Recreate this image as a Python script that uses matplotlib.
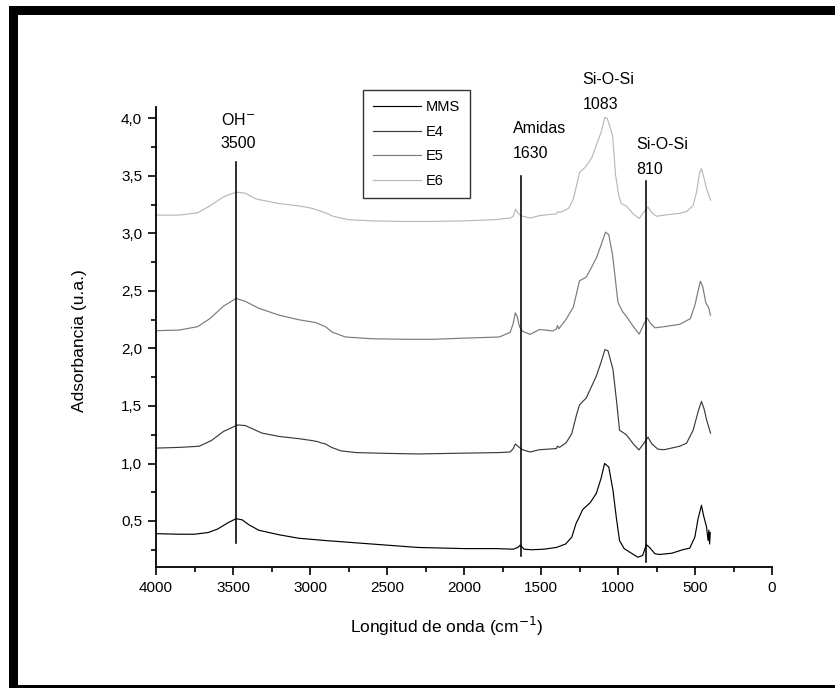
import matplotlib
matplotlib.use("Agg")
import matplotlib.pyplot as plt
from matplotlib.ticker import MultipleLocator, FuncFormatter
from matplotlib.patches import Rectangle

plt.rcParams['font.family'] = ['Liberation Sans', 'DejaVu Sans']

# ---------------- data ----------------
series_names = ["MMS", "E4", "E5", "E6"]
series_colors = ["#000000", "#3c3c3c", "#7a7a7a", "#b8b8b8"]

mms_wn = [4000, 3850, 3750, 3660, 3600, 3530, 3480, 3440, 3400, 3333, 3200, 3073, 2900, 2700,
          2500, 2300, 2000, 1800, 1680, 1650, 1635, 1610, 1560, 1480, 1400, 1340, 1300, 1272,
          1250, 1229, 1180, 1141, 1110, 1087, 1060, 1033, 1010, 990, 960, 925, 871, 840, 816,
          795, 760, 729, 650, 580, 534, 501, 480, 458, 445, 425, 415, 410, 405, 401]
mms_ab = [0.39, 0.385, 0.385, 0.40, 0.43, 0.487, 0.52, 0.51, 0.47, 0.42, 0.38, 0.35, 0.33, 0.31,
          0.29, 0.27, 0.26, 0.26, 0.255, 0.27, 0.29, 0.255, 0.25, 0.255, 0.27, 0.30, 0.36, 0.48,
          0.54, 0.60, 0.66, 0.74, 0.87, 1.00, 0.97, 0.77, 0.52, 0.33, 0.26, 0.23, 0.185, 0.20, 0.294,
          0.27, 0.215, 0.209, 0.22, 0.25, 0.264, 0.36, 0.52, 0.637, 0.55, 0.447, 0.33, 0.42, 0.30, 0.40]

e4_wn = [4000, 3850, 3720, 3640, 3560, 3470, 3420, 3313, 3200, 3073, 2990, 2950, 2930, 2900,
         2860, 2800, 2700, 2500, 2300, 2000, 1771, 1700, 1680, 1667, 1650, 1620, 1571, 1510,
         1450, 1400, 1393, 1380, 1337, 1300, 1270, 1250, 1206, 1141, 1110, 1085, 1065, 1033,
         1010, 990, 946, 900, 864, 830, 805, 780, 740, 700, 600, 555, 512, 480, 458, 440, 425, 399]
e4_ab = [1.134, 1.14, 1.15, 1.20, 1.28, 1.335, 1.33, 1.265, 1.235, 1.216, 1.20, 1.19, 1.18, 1.17,
         1.14, 1.11, 1.095, 1.088, 1.083, 1.09, 1.095, 1.10, 1.13, 1.17, 1.15, 1.12, 1.10, 1.12,
         1.125, 1.13, 1.15, 1.14, 1.18, 1.26, 1.42, 1.51, 1.57, 1.76, 1.88, 1.99, 1.98, 1.82,
         1.55, 1.29, 1.25, 1.17, 1.118, 1.18, 1.229, 1.17, 1.124, 1.12, 1.15, 1.176, 1.29, 1.45,
         1.54, 1.47, 1.38, 1.264]

e5_wn = [4000, 3850, 3730, 3650, 3560, 3480, 3420, 3333, 3200, 3073, 2964, 2900, 2857, 2770,
         2600, 2378, 2200, 2000, 1771, 1700, 1680, 1667, 1655, 1640, 1620, 1571, 1510, 1470,
         1425, 1400, 1393, 1385, 1337, 1290, 1250, 1206, 1141, 1110, 1081, 1060, 1035, 1000,
         970, 946, 900, 862, 830, 810, 790, 760, 700, 600, 530, 500, 480, 465, 450, 430, 410, 400]
e5_ab = [2.155, 2.16, 2.19, 2.26, 2.37, 2.435, 2.41, 2.35, 2.29, 2.25, 2.226, 2.19, 2.143, 2.10,
         2.085, 2.08, 2.08, 2.09, 2.10, 2.14, 2.22, 2.31, 2.28, 2.19, 2.15, 2.123, 2.165, 2.16,
         2.152, 2.17, 2.20, 2.17, 2.254, 2.36, 2.589, 2.62, 2.785, 2.90, 3.012, 2.99, 2.81, 2.40,
         2.32, 2.28, 2.19, 2.125, 2.22, 2.265, 2.22, 2.18, 2.19, 2.21, 2.26, 2.38, 2.50, 2.585,
         2.54, 2.40, 2.35, 2.29]

e6_wn = [4000, 3850, 3730, 3650, 3560, 3480, 3420, 3350, 3200, 3073, 2990, 2900, 2850, 2750,
         2600, 2400, 2200, 2000, 1800, 1700, 1680, 1665, 1645, 1620, 1570, 1510, 1450, 1400,
         1390, 1370, 1320, 1290, 1260, 1250, 1210, 1170, 1140, 1110, 1085, 1070, 1055, 1035,
         1016, 995, 979, 946, 900, 862, 830, 805, 780, 750, 700, 600, 555, 512, 490, 470, 458,
         445, 425, 399]
e6_ab = [3.16, 3.16, 3.18, 3.24, 3.32, 3.36, 3.35, 3.30, 3.26, 3.24, 3.22, 3.18, 3.15, 3.12,
         3.11, 3.105, 3.105, 3.11, 3.12, 3.135, 3.15, 3.21, 3.17, 3.15, 3.135, 3.155, 3.165, 3.17,
         3.19, 3.185, 3.22, 3.30, 3.47, 3.53, 3.58, 3.66, 3.77, 3.88, 4.01, 4.00, 3.94, 3.85,
         3.51, 3.33, 3.26, 3.24, 3.17, 3.13, 3.19, 3.23, 3.18, 3.15, 3.16, 3.175, 3.19, 3.245,
         3.36, 3.53, 3.565, 3.50, 3.39, 3.29]

# reference band marker lines
band_x = [3480, 1630, 820]
band_y0 = [0.306, 0.20, 0.142]
band_y1 = [3.618, 3.498, 3.455]

x_ticks = [4000, 3500, 3000, 2500, 2000, 1500, 1000, 500, 0]
y_ticks = [0.5, 1.0, 1.5, 2.0, 2.5, 3.0, 3.5, 4.0]

# ---------------- figure ----------------
W, H = 835, 688
fig = plt.figure(figsize=(W / 100, H / 100), dpi=100)
fig.patch.set_facecolor("white")

def px(x0, y0, x1, y1):
    """figure rectangle from pixel box (top-left origin)"""
    return (x0 / W, 1 - y1 / H), (x1 - x0) / W, (y1 - y0) / H

for (x0, y0, x1, y1) in [(9, 6, 835, 15), (9, 6, 18, 688), (9, 685, 835, 688)]:
    xy, w, h = px(x0, y0, x1, y1)
    fig.add_artist(Rectangle(xy, w, h, transform=fig.transFigure,
                             facecolor="black", edgecolor="none"))

ax_l, ax_r, ax_t, ax_b = 156, 772, 107, 567
ax = fig.add_axes([ax_l / W, 1 - ax_b / H, (ax_r - ax_l) / W, (ax_b - ax_t) / H])

data = [(mms_wn, mms_ab), (e4_wn, e4_ab), (e5_wn, e5_ab), (e6_wn, e6_ab)]
handles = []
for (wn, ab), name, col in zip(data, series_names, series_colors):
    ln, = ax.plot(wn, ab, color=col, lw=0.85, label=name)
    handles.append(ln)

for xv, y0, y1 in zip(band_x, band_y0, band_y1):
    ax.plot([xv, xv], [y0, y1], color="black", lw=1.15)

ax.set_xlim(4000, 0)
ax.set_ylim(0.1, 4.1)

for s in ["top", "right"]:
    ax.spines[s].set_visible(False)
for s in ["left", "bottom"]:
    ax.spines[s].set_linewidth(1.3)

ax.set_xticks(x_ticks)
ax.xaxis.set_minor_locator(MultipleLocator(250))
ax.set_yticks(y_ticks)
ax.yaxis.set_minor_locator(MultipleLocator(0.25))
ax.yaxis.set_major_formatter(FuncFormatter(lambda v, p: f"{v:.1f}".replace(".", ",")))
ax.xaxis.set_major_formatter(FuncFormatter(lambda v, p: f"{int(v)}"))
ax.tick_params(which="major", direction="out", length=6, width=1.2, labelsize=11, pad=4)
ax.tick_params(which="minor", direction="out", length=3.5, width=1.2)

ax.set_xlabel("Longitud de onda (cm$^{-1}$)", fontsize=12.5)
ax.xaxis.set_label_coords(0.472, -0.105)
ax.set_ylabel("Adsorbancia (u.a.)", fontsize=12.5)
ax.yaxis.set_label_coords(-0.112, 0.493)

tkw = dict(fontsize=11.5, clip_on=False)
ax.text(3464, 3.985, "OH$^{\\mathsf{-}}$", ha="center", va="center", **tkw)
ax.text(3464, 3.78, "3500", ha="center", va="center", **tkw)
ax.text(1685, 3.915, "Amidas", ha="left", va="center", **tkw)
ax.text(1685, 3.695, "1630", ha="left", va="center", **tkw)
ax.text(1230, 4.335, "Si-O-Si", ha="left", va="center", **tkw)
ax.text(1230, 4.12, "1083", ha="left", va="center", **tkw)
ax.text(879, 3.775, "Si-O-Si", ha="left", va="center", **tkw)
ax.text(879, 3.56, "810", ha="left", va="center", **tkw)

leg = ax.legend(handles=handles, loc="upper left",
                bbox_to_anchor=((363 - ax_l) / (ax_r - ax_l), (ax_b - 90) / (ax_b - ax_t)),
                frameon=True, fancybox=False, shadow=False, fontsize=10.5,
                handlelength=3.3, handletextpad=0.3, labelspacing=0.72,
                borderpad=0.7, borderaxespad=0)
leg.get_frame().set_edgecolor("black")
leg.get_frame().set_linewidth(1.0)

fig.savefig("out.png", dpi=100, facecolor="white")
